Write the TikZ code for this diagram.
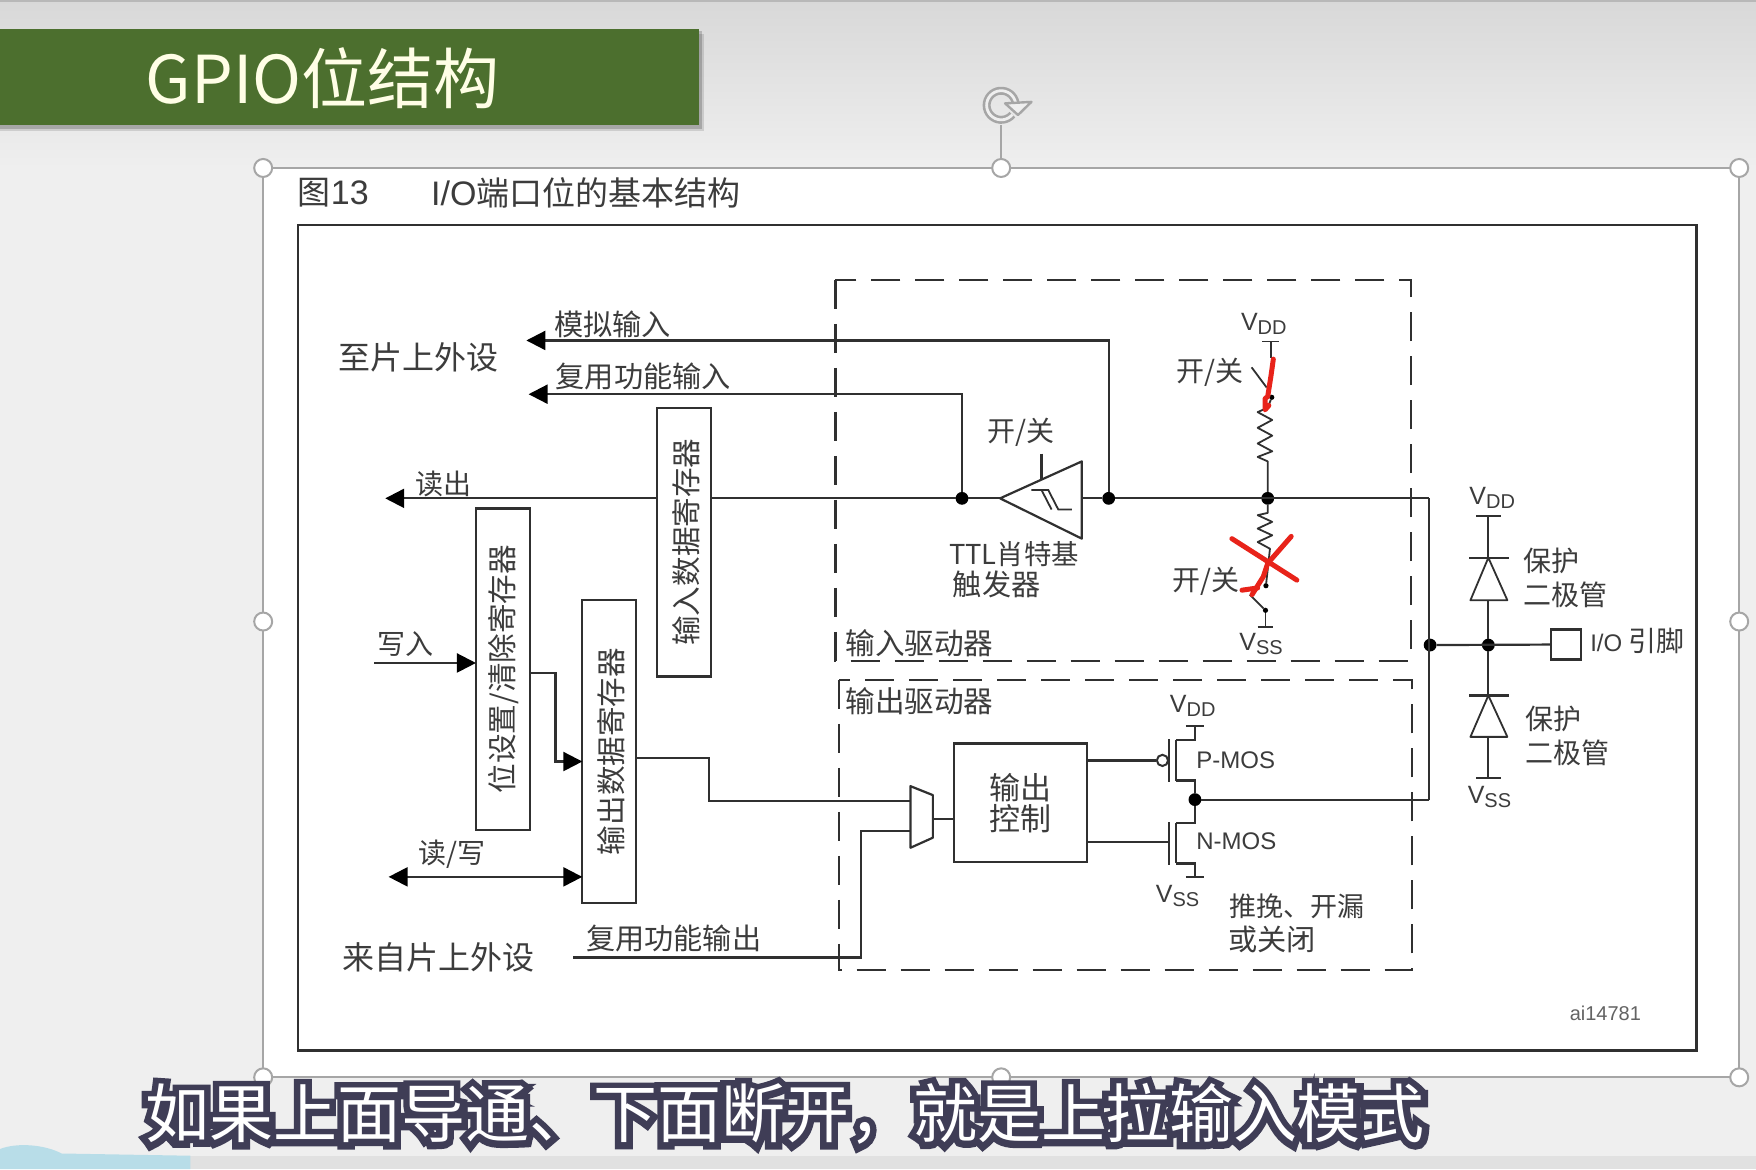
\documentclass[tikz,border=0pt]{standalone}
\usepackage{fontspec}
\usetikzlibrary{arrows.meta,calc}
\setmainfont{Noto Sans CJK SC}
\newfontfamily\cjkf{Noto Sans CJK SC}
\newfontfamily\cjkb[FakeBold=20]{Noto Sans CJK SC}
\newfontfamily\latf{Liberation Sans}
\definecolor{ink}{HTML}{303030}
\definecolor{txtc}{HTML}{3C3C3C}
\definecolor{hand}{HTML}{A6A6A6}
\definecolor{red1}{HTML}{E8231A}
\definecolor{sub}{HTML}{3F3D56}
\definecolor{banner}{HTML}{4C6F2E}
\definecolor{skyb}{HTML}{B8DDE8}
\definecolor{slide}{HTML}{EFEFEF}
\definecolor{slidetop}{HTML}{D8D8D8}
\newcommand\vsub[2]{{\latf\fontsize{12.5}{14}\selectfont #1\raisebox{-0.3ex}{\fontsize{10}{12}\selectfont #2}}}
\newcommand\su[1]{\fontsize{#1}{#1}\selectfont}
\tikzset{
 x=0.56pt,y=-0.56pt,
 lbl/.style={inner sep=0pt,outer sep=0pt,text=txtc,font=\cjkf\su{14},align=center},
 lblW/.style={lbl,font=\cjkf\su{14.6}},
 lblL/.style={lbl,font=\cjkf\su{16}},
 lat/.style={inner sep=0pt,outer sep=0pt,text=txtc,font=\latf\su{12}},
 wire/.style={draw=ink,line width=1.1pt,line join=miter},
 thin wire/.style={draw=ink,line width=0.9pt},
 arr/.style={wire,-{Triangle[length=9.5pt,width=9.5pt,color=black]}},
 arrb/.style={wire,{Triangle[length=9.5pt,width=9.5pt,color=black]}-{Triangle[length=9.5pt,width=9.5pt,color=black]}},
 box/.style={draw=ink,line width=1.1pt,inner sep=0pt,outer sep=0pt,fill=white,text=txtc,font=\cjkf\su{14.8},align=center},
 dash box/.style={draw=ink,line width=1.2pt,dash pattern=on 14.5pt off 7.5pt},
 dotj/.style={circle,fill=black,inner sep=0pt,minimum size=6.4pt,outer sep=0pt},
 hdl/.style={circle,draw=hand,line width=1pt,fill=white,inner sep=0pt,minimum size=9pt,outer sep=0pt},
 redink/.style={draw=red1,line width=2.5pt,line cap=round,line join=round},
}
\begin{document}
\begin{tikzpicture}
\useasboundingbox (0,0) rectangle (1568,1044);
% slide background
\fill[slide] (0,0) rectangle (1568,1044);
\shade[top color=slidetop,bottom color=slide] (0,0) rectangle (1568,150);
\fill[slidetop!85!black] (0,0) rectangle (1568,1.5);
\fill[slide!94!black] (0,1032) rectangle (1568,1044);
\fill[skyb] (0,1044) -- (0,1026) .. controls (15,1020) and (40,1022) .. (55,1030) -- (170,1032) -- (170,1044) -- cycle;
% title banner
\fill[black,opacity=.12] (0,30) rectangle (629,117);
\fill[black,opacity=.18] (0,28) rectangle (627,115);
\fill[banner] (0,26) rectangle (624,112);
\node[anchor=west,inner sep=0pt,text=white!90!yellow,font=\cjkf\su{33}] (title) at (130,70) {GPIO位结构};
% selection frame
\fill[white] (235,150) rectangle (1553,962);
\node[hdl] (h1) at (235,150) {};
\node[hdl] (h2) at (894,150) {};
\node[hdl] (h3) at (1553,150) {};
\node[hdl] (h4) at (1553,555) {};
\node[hdl] (h5) at (1553,962) {};
\node[hdl] (h6) at (894,962) {};
\node[hdl] (h7) at (235,962) {};
\node[hdl] (h8) at (235,555) {};
\draw[hand,line width=1pt] (h1)--(h2) (h2)--(h3) (h3)--(h4) (h4)--(h5) (h5)--(h6) (h6)--(h7) (h7)--(h8) (h8)--(h1);
\coordinate (rot) at (894,112);
\draw[hand,line width=4pt] plot[smooth,domain=40:350,samples=30] ({894+13*cos(\x)},{94+13*sin(\x)});
\draw[slide,line width=1.4pt] plot[smooth,domain=40:350,samples=30] ({894+13*cos(\x)},{94+13*sin(\x)});
\filldraw[fill=slide,draw=hand,line width=1.2pt,line join=round] (897.5,92.3)--(921,91)--(909,102.7)--cycle;
\draw[hand,line width=1pt] (rot)--(h2);
% figure caption + frame
\node[lbl,anchor=west,font=\cjkf\su{16.5}] (fig) at (266,172) {图{\latf\su{17}13}};
\node[lbl,anchor=west,font=\cjkf\su{16.5}] (figt) at (385,172) {{\latf\su{17}I/O}端口位的基本结构};
\draw[ink,line width=1.2pt] (266,201) rectangle (1515,938);
% dashed regions
\draw[dash box] (746,250) rectangle (1260,590);
\draw[dash box] (749,607) rectangle (1261,866);
% registers
\node[box,minimum width=26.9pt,minimum height=134.4pt] (inreg) at (611,484) {\hspace*{2pt}\raisebox{-2pt}{\rotatebox{90}{输入数据寄存器}}};
\node[box,minimum width=26.9pt,minimum height=160.7pt] (bsrr) at (449,597.5) {\hspace*{1pt}\rotatebox{90}{位设置/清除寄存器}};
\node[box,minimum width=26.9pt,minimum height=151.2pt] (outreg) at (544,671) {\hspace*{2pt}\rotatebox{90}{输出数据寄存器}};
\node[box,minimum width=66.6pt,minimum height=59.4pt,font=\cjkf\su{15.5}] (ctl) at (911.5,717) {输出\\控制};
% junctions
\coordinate (schm) at (893,445);
\node[dotj] (j1) at (859,445) {};
\node[dotj] (j2) at (990,445) {};
\node[dotj] (j3) at (1132,445) {};
\node[dotj] (j4) at (1067,714) {};
\node[dotj] (j5) at (1277,576) {};
\node[dotj] (j6) at (1329,576) {};
\coordinate (cr) at (1276,445);
\coordinate (crb) at (1276,714);
\node[draw=ink,line width=1.1pt,fill=white,inner sep=0pt,minimum size=15.1pt] (pin) at (1398.5,575.5) {};
% schmitt trigger
\coordinate (sa) at (966,412); \coordinate (sb) at (966,481); \coordinate (sm) at (966,445);
\draw[wire,line join=round] (schm)--(sa)--(sb)--cycle;
\coordinate (ss1) at (930,405); \coordinate (ss2) at (930,429);
\draw[wire] (ss1)--(ss2);
\draw[thin wire] (921,437.5)--(936,437.5)--(945,455)--(957,455) (930,437.5)--(939,455);
% wires: analog / alternate input
\coordinate (ai) at (470,304); \coordinate (af) at (472,352); \coordinate (rd) at (344,445);
\draw[arr] (j2) |- (ai);
\draw[arr] (j1) |- (af);
\draw[arr] (inreg.west |- rd) -- (rd);
\draw[wire] (inreg.east |- j1) -- (j1);
\draw[wire] (j1) -- (schm);
\draw[wire] (sm) -- (j2);
\draw[wire] (j2) -- (cr);
\draw[wire] (cr) -- (crb);
\draw[wire] (crb) -- (j4);
\draw[wire] (j5) -- (pin);
% write etc.
\coordinate (wr) at (334,592);
\draw[arr] (wr) -- (bsrr.west |- wr);
\coordinate (b1) at (496,601); \coordinate (b2) at (496,680);
\draw[arr] (bsrr.east |- b1) -- (b1) -- (b2) -- (outreg.west |- b2);
\coordinate (rw) at (347,783);
\draw[arrb] (rw) -- (outreg.west |- rw);
% mux
\coordinate (m1) at (813,702); \coordinate (m2) at (833,710); \coordinate (m3) at (833,748); \coordinate (m4) at (813,757);
\draw[wire,line join=round] (m1)--(m2)--(m3)--(m4)--cycle;
\coordinate (mo) at (833,731);
\draw[wire] (mo) -- (ctl.west |- mo);
\coordinate (mi1) at (813,715); \coordinate (mi2) at (813,742);
\coordinate (o1) at (633,677); \coordinate (o2) at (633,715);
\draw[wire] (outreg.east |- o1) -- (o1) -- (o2) -- (mi1);
\coordinate (afo) at (512,855); \coordinate (afc) at (769,855); \coordinate (afu) at (769,742);
\draw[wire] (afo) -- (afc) -- (afu) -- (mi2);
% P-MOS
\coordinate (pg) at (1033,679);
\node[circle,draw=ink,line width=1pt,fill=white,inner sep=0pt,minimum size=5.6pt] (bub) at (1038,679) {};
\draw[wire] (ctl.east |- pg) -- (bub);
\draw[wire] (1044,660)--(1044,698);
\draw[wire] (1050,661)--(1050,697);
\coordinate (vp) at (1067,648);
\draw[wire] (1050,661)--(1067,661)--(vp);
\draw[wire] (1059,648)--(1075,648);
\draw[wire] (1050,697)--(1067,697)--(j4);
% N-MOS
\coordinate (ng) at (1044,752);
\draw[wire] (ctl.east |- ng) -- (ng);
\draw[wire] (1044,734)--(1044,772);
\draw[wire] (1050,735)--(1050,771);
\coordinate (vn) at (1067,783);
\draw[wire] (j4)--(1067,735)--(1050,735);
\draw[wire] (1050,771)--(1067,771)--(vn);
\draw[wire] (1059,783)--(1075,783);
% diodes
\coordinate (dt) at (1329,461); \coordinate (dte) at (1329,498); \coordinate (dm) at (1329,536);
\coordinate (dbt) at (1329,621); \coordinate (dbe) at (1329,658); \coordinate (db) at (1329,695);
\draw[wire] (1318,461)--(1340,461) (dt)--(dte);
\draw[wire] (1312,498)--(1347,498);
\draw[thin wire,line join=round] (dte)--(1313,536)--(1346,536)--cycle;
\draw[wire] (dm)--(j6) (j6)--(dbt);
\draw[wire] (1312,621)--(1347,621);
\draw[thin wire,line join=round] (dbt)--(1313,658)--(1346,658)--cycle;
\draw[wire] (dbe)--(db) (1318,695)--(1340,695);
% pull-up
\draw[wire,line width=0.9pt] (1127,305)--(1142,305) (1135,305)--(1135,320);
\draw[wire,line width=0.9pt] (1117.6,328)--(1131,346);
\node[dotj,minimum size=2.6pt] (pu) at (1135.6,354.8) {};
\draw[wire,line width=0.9pt,line join=round] (pu)--(1132,364)--(1123,368)--(1136,375)--(1123,382)--(1136,389)--(1123,396)--(1136,403)--(1123,408)--(1132,412)--(j3);
% pull-down
\node[dotj,minimum size=2.6pt] (pd1) at (1130.4,523) {};
\node[dotj,minimum size=2.6pt] (pd2) at (1130,545) {};
\draw[wire,line width=0.9pt,line join=round] (j3)--(1132,458)--(1123,460)--(1136,466)--(1123,472)--(1136,478)--(1123,484)--(1134,490)--(pd1);
\draw[wire,line width=0.9pt] (1116,531)--(pd2);
\draw[wire,line width=0.9pt] (pd2)--(1130,560) (1123,560)--(1137,560);
% red pen strokes
\draw[redink] (1137,320.7)--(1135,335)--(1132,354)--(1129.6,356)--(1129.6,366)--(1133,362);
\draw[redink] (1100,481)--(1158,518);
\draw[redink] (1153,479)--(1132,503)--(1128,515)--(1118,531);
\draw[redink] (1109,527)--(1123,525);
% labels
\node[lblL] (l1) at (373.5,319) {至片上外设};
\node[lblW] (l2) at (547,290) {模拟输入};
\node[lblW] (l3) at (574.5,336) {复用功能输入};
\node[lbl] (l4) at (396,432) {读出};
\node[lbl] (l5) at (362,575) {写入};
\node[lbl] (l6) at (403.5,763) {读/写};
\node[lblL] (l7) at (391.5,855) {来自片上外设};
\node[lblW] (l8) at (601.5,838) {复用功能输出};
\node[lbl] (l9) at (911.5,386) {开/关};
\node[lbl,font=\cjkf\su{13.7}] (l10) at (905.5,495) {TTL肖特基};
\node[lblW] (l11) at (890,522) {触发器};
\node[lbl] (l12) at (1080.5,332) {开/关};
\node[lbl] (l13) at (1076.5,519) {开/关};
\node[lbl,font=\cjkf\su{14.8}] (l14) at (821,574) {输入驱动器};
\node[lbl,font=\cjkf\su{14.8}] (l15) at (821,626) {输出驱动器};
\node[lat] (l16) at (1103.5,679) {P-MOS};
\node[lat] (l17) at (1104,751) {N-MOS};
\node[lat] (v1) at (1128.5,289) {\vsub{V}{DD}};
\node[lat] (v2) at (1126,575) {\vsub{V}{SS}};
\node[lat] (v3) at (1065,630) {\vsub{V}{DD}};
\node[lat] (v4) at (1051.5,800) {\vsub{V}{SS}};
\node[lat] (v5) at (1332.5,445) {\vsub{V}{DD}};
\node[lat] (v6) at (1330,712) {\vsub{V}{SS}};
\node[lbl,font=\cjkf\su{13.5}] (l18) at (1158,809) {推挽、开漏};
\node[lblW,anchor=west] (l19) at (1097,839) {或关闭};
\node[lbl] (l20) at (1385,501) {保护};
\node[lbl] (l21) at (1398,531) {二极管};
\node[lbl] (l22) at (1387,642) {保护};
\node[lbl] (l23) at (1400,672) {二极管};
\node[lbl,anchor=west] (l24) at (1420,572) {{\latf\su{12}I/O} 引脚};
\node[lat,font=\latf\su{10},text=txtc!80] (l25) at (1433.5,905) {ai14781};
% subtitle
\node[inner sep=0pt,anchor=center,font=\su{32}] (subt) at (701,995)
 {\rlap{\cjkb\textcolor{sub}{如果上面导通、下面断开，就是上拉输入模式}}\textcolor{white}{如果上面导通、下面断开，就是上拉输入模式}};
\end{tikzpicture}
\end{document}
